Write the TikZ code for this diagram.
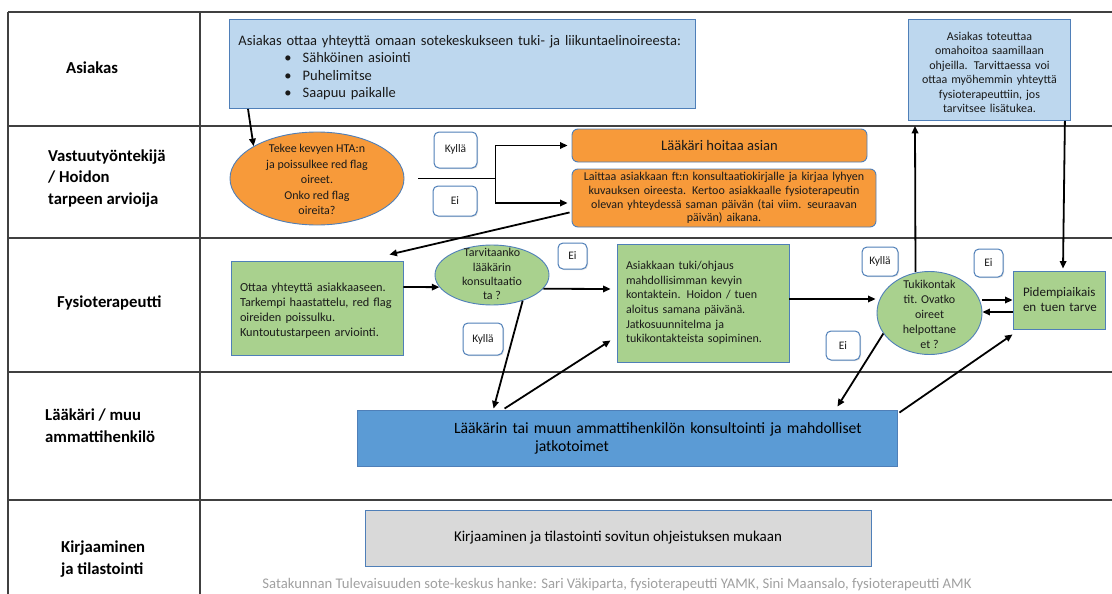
\documentclass[tikz,border=0pt]{standalone}
\usepackage{fontspec}
\usepackage{graphicx}
\setmainfont{Carlito}
\usetikzlibrary{arrows.meta,calc,shapes.geometric,shadows}
\definecolor{tline}{HTML}{404040}
\definecolor{lblue}{HTML}{BDD7EE}
\definecolor{bedge}{HTML}{4F7FB8}
\definecolor{orng}{HTML}{F79A3A}
\definecolor{lgreen}{HTML}{A9D18E}
\definecolor{mblue}{HTML}{5B9BD5}
\definecolor{lgray}{HTML}{D9D9D9}
\definecolor{foot}{HTML}{A0A0A0}
\definecolor{txt}{HTML}{1A1A1A}
\newcommand\elltext[2]{\smash{\raisebox{#1}{\begin{tabular}{@{}c@{}}#2\end{tabular}}}}
\newcommand\ind{\hspace*{10pt}}
\begin{document}
\begin{tikzpicture}[x=1pt,y=-1pt,
  tbl/.style={draw=tline,line width=1.3pt},
  rowlbl/.style={font=\bfseries\fontsize{16.7}{21.5}\selectfont,align=left,anchor=west,inner sep=0pt,text=black},
  shapebase/.style={draw=bedge,line width=0.9pt,inner sep=0pt,text=txt},
  lbluebox/.style={shapebase,fill=lblue},
  orangebox/.style={shapebase,fill=orng,rounded corners=6pt},
  greenbox/.style={shapebase,fill=lgreen},
  ellnode/.style={shapebase,ellipse},
  ynbox/.style={draw=bedge,fill=white,rounded corners=5pt,line width=1pt,inner sep=0pt,text=txt,
    font=\fontsize{11.5}{13}\selectfont,
    drop shadow={opacity=0.25,shadow xshift=1pt,shadow yshift=-1pt}},
  arr/.style={-{Triangle[length=7.5pt,width=6.5pt]},line width=1.8pt,black},
  conn/.style={line width=1.8pt,black}
]
\useasboundingbox (0,0) rectangle (1112,594);

% table
\draw[tbl] (8,12) -- (1112,12);
\foreach \yy in {126,238,372,500} \draw[tbl] (8,\yy) -- (1112,\yy);
\draw[tbl] (8,12) -- (8,594);
\draw[tbl] (200,12) -- (200,594);

% row labels
\node[rowlbl] (lab1) at (66,68) {Asiakas};
\node[rowlbl] (lab2) at (48,178.5) {Vastuutyöntekijä\\/ Hoidon\\tarpeen arvioija};
\node[rowlbl] (lab3) at (57,303) {Fysioterapeutti};
\node[rowlbl] (lab4) at (45,425.5) {Lääkäri / muu\\ammattihenkilö};
\node[rowlbl] (lab5) at (61,559) {Kirjaaminen\\ja tilastointi};

% Asiakas row
\node[lbluebox,anchor=north west,minimum width=466pt,minimum height=89pt,text width=466pt,align=left,
  font=\fontsize{14.5}{17.5}\selectfont] (asiakas) at (229,19)
  {\rule{0pt}{17pt}\hspace*{9pt}Asiakas ottaa yhteyttä omaan sotekeskukseen tuki- ja liikuntaelinoireesta:\\
   \hspace*{55pt}\textbullet\hspace*{11pt}Sähköinen asiointi\\
   \hspace*{55pt}\textbullet\hspace*{11pt}Puhelimitse\\
   \hspace*{55pt}\textbullet\hspace*{11pt}Saapuu paikalle};
\node[lbluebox,anchor=north west,minimum width=162pt,minimum height=101pt,text width=162pt,align=center,
  font=\fontsize{12}{14.4}\selectfont] (topbox) at (908,19)
  {\rule{0pt}{13pt}Asiakas toteuttaa\\omahoitoa saamillaan\\ohjeilla. Tarvittaessa voi\\ottaa myöhemmin yhteyttä\\fysioterapeuttiin, jos\\tarvitsee lisätukea.};

% Vastuu row
\node[ellnode,fill=orng,minimum width=174pt,minimum height=93pt,font=\fontsize{12}{15.5}\selectfont] (ell1) at (317,178.5)
  {\elltext{-5pt}{Tekee kevyen HTA:n\\ja poissulkee red flag\\oireet.\\Onko red flag\\oireita?}};
\node[ynbox,minimum width=43pt,minimum height=36pt] (y1) at (455.5,150) {\raisebox{2pt}{Kyllä}};
\node[ynbox,minimum width=44pt,minimum height=30pt] (n1) at (455,201) {Ei};
\node[orangebox,minimum width=295pt,minimum height=33pt,font=\fontsize{14.6}{16}\selectfont] (lhoitaa) at (719.5,145.5) {Lääkäri hoitaa asian};
\node[orangebox,minimum width=304pt,minimum height=58pt,text width=304pt,align=center,font=\fontsize{12}{13.8}\selectfont] (laittaa) at (724,198)
  {Laittaa asiakkaan ft:n konsultaatiokirjalle ja kirjaa lyhyen\\kuvauksen oireesta. Kertoo asiakkaalle fysioterapeutin\\olevan yhteydessä saman päivän (tai viim. seuraavan\\päivän) aikana.};

% Fysio row
\node[greenbox,minimum width=172pt,minimum height=94pt,text width=172pt,align=left,font=\fontsize{12.3}{15}\selectfont] (green1) at (317,308)
  {\rule{0pt}{13pt}\hspace*{9pt}Ottaa yhteyttä asiakkaaseen.\\ \hspace*{9pt}Tarkempi haastattelu, red flag\\ \hspace*{9pt}oireiden poissulku.\\ \hspace*{9pt}Kuntoutustarpeen arviointi.};
\node[ellnode,fill=lgreen,minimum width=114pt,minimum height=60pt,font=\fontsize{12}{14.3}\selectfont] (ell2) at (492,275)
  {\elltext{-3.5pt}{Tarvitaanko\\lääkärin\\konsultaatio\\ta ?}};
\node[ynbox,minimum width=29pt,minimum height=26pt] (n2) at (572.5,256) {Ei};
\node[ynbox,minimum width=40pt,minimum height=32pt] (y2) at (483,339) {Kyllä};
\node[greenbox,minimum width=172pt,minimum height=118pt,text width=172pt,align=left,font=\fontsize{12}{14.6}\selectfont] (green2) at (703,303)
  {\hspace*{9pt}Asiakkaan tuki/ohjaus\\ \hspace*{9pt}mahdollisimman kevyin\\ \hspace*{9pt}kontaktein. Hoidon / tuen\\ \hspace*{9pt}aloitus samana päivänä.\\ \hspace*{9pt}Jatkosuunnitelma ja\\ \hspace*{9pt}tukikontakteista sopiminen.};
\node[ynbox,minimum width=36pt,minimum height=29pt] (y3) at (880,261.5) {Kyllä};
\node[ynbox,minimum width=29pt,minimum height=28pt] (n3) at (988.5,263) {Ei};
\node[ellnode,fill=lgreen,minimum width=105pt,minimum height=83pt,font=\fontsize{12}{15}\selectfont] (ell3) at (929.5,313)
  {\elltext{-5.5pt}{Tukikontak\\tit. Ovatko\\oireet\\helpottane\\et ?}};
\node[ynbox,minimum width=34pt,minimum height=29pt] (n4) at (843,345.5) {Ei};
\node[greenbox,minimum width=92pt,minimum height=58pt,text width=92pt,align=left,font=\fontsize{13}{15}\selectfont] (pidempi) at (1059,300)
  {\ind Pidempiaikais\\ \ind en tuen tarve};

% Laakari row
\node[shapebase,fill=mblue,text=black,minimum width=540pt,minimum height=56pt,text width=540pt,align=left,font=\fontsize{15.7}{18}\selectfont] (blue) at (627,438)
  {\hspace*{97pt}Lääkärin tai muun ammattihenkilön konsultointi ja mahdolliset\\ \hspace*{178pt}jatkotoimet};

% Kirjaaminen row
\node[shapebase,fill=lgray,text=black,minimum width=506pt,minimum height=56pt,font=\fontsize{15}{17}\selectfont] (gray) at (618,538)
  {Kirjaaminen ja tilastointi sovitun ohjeistuksen mukaan};
\node[text=foot,inner sep=0pt,font=\fontsize{14.7}{16}\selectfont] (footer) at (617,585)
  {Satakunnan Tulevaisuuden sote-keskus hanke: Sari Väkiparta, fysioterapeutti YAMK, Sini Maansalo, fysioterapeutti AMK};

% connectors
\draw[arr] ($(asiakas.south west)+(19,0)$) -- (ell1.153);
\coordinate (sp0) at ($(ell1.east)+(14,0)$);
\coordinate (sp) at ($(ell1.east)+(91,0)$);
\draw[conn] (sp0) -- (sp);
\draw[arr] (sp) |- ($(lhoitaa.west)+(-4,0)$);
\draw[arr] (sp) |- ($(laittaa.west)+(-4,5)$);
\draw[arr] ($(laittaa.south west)+(-2,-15)$) -- ($(green1.north east)+(-14,-6)$);
\draw[arr] ($(green1.east)+(0,-21)$) -- (ell2.193);
\draw[arr] (ell2.-15) -- ($(green2.west)+(-6,-14)$);
\draw[arr] (ell2.-40) -- ($(blue.north west)+(137,-1)$);
\draw[arr] ($(blue.north west)+(148,-1)$) -- ($(green2.south west)+(-6,-22)$);
\draw[arr] ($(green2.east)+(0,-4)$) -- ($(ell3.west)+(-1,-14)$);
\draw[arr] ($(ell3.north)+(-14,1)$) -- ($(topbox.south west)+(7,5)$);
\draw[arr] ($(topbox.south east)+(-6,0)$) -- ($(pidempi.north)+(4,-2)$);
\draw[arr] (ell3.east |- pidempi.west) -- (pidempi.west);
\draw[arr] ($(pidempi.west)+(0,12)$) -- ($(ell3.east)+(0,-1)$);
\draw[arr] (ell3.204) -- ($(blue.north east)+(-60,-3)$);
\draw[arr] ($(blue.north east)+(2,3)$) -- ($(pidempi.south west)+(0,5)$);
\end{tikzpicture}
\end{document}
